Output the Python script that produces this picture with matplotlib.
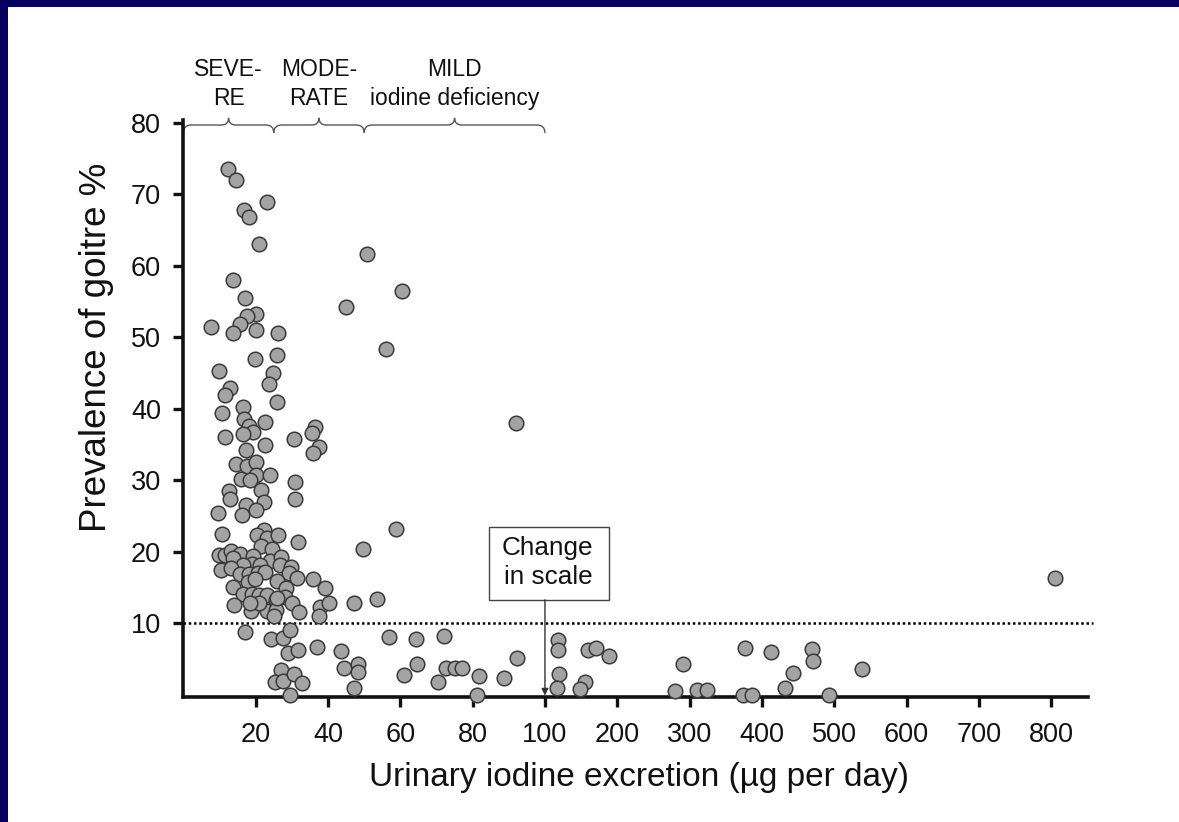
import numpy as np
import matplotlib
matplotlib.use("Agg")
import matplotlib.pyplot as plt
from matplotlib.patches import Rectangle, PathPatch
from matplotlib.path import Path

plt.rcParams['font.family'] = ['Liberation Sans', 'DejaVu Sans']

# Urinary iodine excretion (ug/day) and goitre prevalence (%) per survey
iodine = [
    12.4, 14.5, 23.0, 16.8, 18.1, 20.8, 50.7, 13.6, 60.4, 17.0,
    45.0, 20.1, 17.7, 7.6, 15.7, 13.6, 20.0, 26.1, 19.7, 26.0,
    56.0, 9.8, 24.7, 23.7, 12.9, 11.5, 25.8, 16.6, 10.7, 16.8,
    22.6, 18.1, 19.3, 16.4, 11.4, 36.5, 35.6, 30.7, 22.6, 17.2,
    37.6, 35.8, 14.5, 17.7, 20.1, 20.1, 15.9, 18.4, 23.9, 30.9,
    21.4, 12.5, 12.9, 22.4, 17.3, 30.9, 9.7, 16.3, 20.0, 10.8,
    22.2, 20.3, 23.2, 26.2, 31.6, 21.4, 58.7, 49.6, 9.8, 11.5,
    13.1, 15.7, 13.6, 19.3, 24.6, 23.9, 27.0, 19.1, 21.2, 16.6,
    26.7, 29.7, 10.4, 13.2, 15.7, 18.1, 20.7, 22.6, 29.3, 31.4,
    35.8, 26.0, 17.9, 19.7, 28.5, 39.2, 13.8, 16.4, 18.9, 20.8,
    23.2, 28.2, 25.6, 30.1, 37.8, 40.3, 47.2, 53.5, 13.9, 18.8,
    23.2, 25.6, 32.1, 37.6, 25.1, 17.0, 24.1, 27.5, 29.5, 56.8,
    64.2, 37.0, 29.0, 31.6, 43.7, 44.5, 48.2, 48.2, 64.5, 61.1,
    27.0, 25.4, 27.6, 30.6, 32.8, 47.2, 29.5, 92.0, 72.2, 70.5,
    72.6, 75.1, 77.0, 81.7, 81.1, 88.7, 92.2, 21.0, 18.4, 26.0,
    118.4, 118.4, 160.0, 170.0, 189.0, 119.5, 155.5, 148.5, 116.0, 290.5,
    280.5, 310.5, 323.5, 377.0, 373.5, 386.5, 412.5, 431.5, 442.5, 469.0,
    471.0, 492.5, 538.5, 805.0,
]
goitre = [
    73.5, 72.0, 68.9, 67.8, 66.8, 63.0, 61.6, 58.0, 56.5, 55.5,
    54.2, 53.2, 53.0, 51.4, 51.9, 50.6, 51.0, 50.6, 47.0, 47.5,
    48.4, 45.3, 45.0, 43.5, 42.9, 42.0, 41.0, 40.3, 39.4, 38.6,
    38.2, 37.6, 36.7, 36.5, 36.1, 37.5, 36.6, 35.8, 35.0, 34.2,
    34.7, 33.8, 32.3, 32.0, 32.5, 30.8, 30.2, 30.1, 30.8, 29.8,
    28.6, 28.5, 27.4, 27.0, 26.6, 27.4, 25.5, 25.2, 25.9, 22.5,
    23.1, 22.3, 21.9, 22.3, 21.4, 20.8, 23.2, 20.4, 19.5, 19.5,
    20.1, 19.7, 19.2, 19.4, 20.4, 18.7, 19.3, 18.3, 18.2, 18.2,
    18.1, 17.9, 17.4, 17.8, 16.9, 16.9, 17.0, 17.2, 17.0, 16.3,
    16.2, 15.9, 15.8, 16.2, 15.0, 15.0, 15.1, 14.1, 14.1, 14.0,
    14.0, 13.7, 13.2, 12.8, 12.3, 12.8, 12.9, 13.4, 12.5, 11.7,
    11.7, 11.8, 11.6, 11.0, 11.0, 8.8, 7.8, 8.0, 9.1, 8.1,
    7.8, 6.7, 5.9, 6.3, 6.2, 3.8, 4.3, 3.2, 4.3, 2.8,
    3.5, 1.8, 2.0, 2.9, 1.7, 1.0, 0.0, 38.0, 8.3, 1.8,
    3.7, 3.8, 3.8, 2.6, 0.0, 2.3, 5.2, 12.9, 12.8, 13.5,
    7.7, 6.3, 6.3, 6.5, 5.4, 2.9, 1.8, 0.8, 0.9, 4.3,
    0.6, 0.7, 0.7, 6.6, 0.0, 0.0, 6.0, 1.0, 3.1, 6.4,
    4.8, 0.0, 3.6, 16.4,
]

x_ticks = [20, 40, 60, 80, 100, 200, 300, 400, 500, 600, 700, 800]
y_ticks = [10, 20, 30, 40, 50, 60, 70, 80]
bands = [("SEVE-\nRE", 0, 25), ("MODE-\nRATE", 25, 50),
         ("MILD\niodine deficiency", 50, 100)]
threshold = 10
scale_break = 100
compression = 5


def forward(x):
    x = np.asarray(x, dtype=float)
    return np.where(x <= scale_break, x, scale_break + (x - scale_break) / compression)


def inverse(t):
    t = np.asarray(t, dtype=float)
    return np.where(t <= scale_break, t, scale_break + (t - scale_break) * compression)


W, H = 1179, 822
fig = plt.figure(figsize=(W / 100, H / 100), dpi=100)
navy = '#07005f'
fig.patches.append(Rectangle((0, 0), 8 / W, 1, transform=fig.transFigure,
                             facecolor=navy, edgecolor='none', zorder=0))
fig.patches.append(Rectangle((0, 1 - 7.5 / H), 1, 7.5 / H, transform=fig.transFigure,
                             facecolor=navy, edgecolor='none', zorder=0))

ax = fig.add_axes([183.4 / W, 125 / H, (1088 - 183.4) / W, 577 / H])
ax.set_xscale('function', functions=(forward, inverse))
ax.set_xlim(0, 851)
ax.set_ylim(-0.3, 80.4)

for side in ('top', 'right'):
    ax.spines[side].set_visible(False)
for side in ('left', 'bottom'):
    ax.spines[side].set_linewidth(2.6)
    ax.spines[side].set_color('#111111')

ax.set_xticks(x_ticks)
ax.set_xticklabels([str(v) for v in x_ticks])
ax.set_yticks(y_ticks)
ax.set_yticklabels([str(v) for v in y_ticks])
ax.minorticks_off()
ax.tick_params(direction='out', length=7, width=2.4, color='#111111',
               labelsize=19.5, labelcolor='#111111')
ax.tick_params(axis='x', pad=11)
ax.tick_params(axis='y', pad=9)

# cut-off line for goitre endemicity
ax.plot([0, 858], [threshold, threshold], linestyle=(0, (1, 1.1)), lw=1.8,
        color='black', clip_on=False, zorder=3)

ax.scatter(iodine, goitre, s=110, c='#a3a3a3', edgecolors='#3a3a3a',
           linewidths=1.1, zorder=4, clip_on=False)

# braces and severity labels above the plot
yb, ye, yt = 79.7, 78.6, 80.7
dx, dt = 2.2, 2.0
for label, x0, x1 in bands:
    mid = (x0 + x1) / 2
    verts = [(x0, ye), (x0, yb), (x0 + dx, yb),
             (mid - dt, yb),
             (mid, yb), (mid, yt),
             (mid, yb), (mid + dt, yb),
             (x1 - dx, yb),
             (x1, yb), (x1, ye)]
    codes = [Path.MOVETO, Path.CURVE3, Path.CURVE3,
             Path.LINETO,
             Path.CURVE3, Path.CURVE3,
             Path.CURVE3, Path.CURVE3,
             Path.LINETO,
             Path.CURVE3, Path.CURVE3]
    ax.add_patch(PathPatch(Path(verts, codes), facecolor='none', edgecolor='#555555',
                           lw=1.0, clip_on=False))
    ax.text(mid, 85.4, label, ha='center', va='center', multialignment='center',
            fontsize=16.5, linespacing=1.33, color='#111111', clip_on=False)

# annotation marking the change of scale
ax.add_patch(Rectangle((84.6, 13.3), 189 - 84.6, 23.5 - 13.3, facecolor='white',
                       edgecolor='#444444', lw=1.0, zorder=5))
ax.text(104, 18.5, "Change\nin scale", ha='center', va='center',
        multialignment='center', fontsize=18.8, linespacing=1.3,
        color='#111111', zorder=6)
ax.annotate('', xy=(scale_break, -0.1), xytext=(scale_break, 13.3),
            arrowprops=dict(arrowstyle='-|>', color='#333333', lw=1.0,
                            mutation_scale=10, shrinkA=0, shrinkB=0),
            zorder=5)

fig.text(97 / W, 1 - 347 / H, "Prevalence of goitre %", rotation=90,
         ha='center', va='center', fontsize=26.5, color='#111111')
fig.text(639 / W, 1 - 777 / H, "Urinary iodine excretion (µg per day)",
         ha='center', va='center', fontsize=24, color='#111111')

fig.savefig('out.png', dpi=100, facecolor='white')
